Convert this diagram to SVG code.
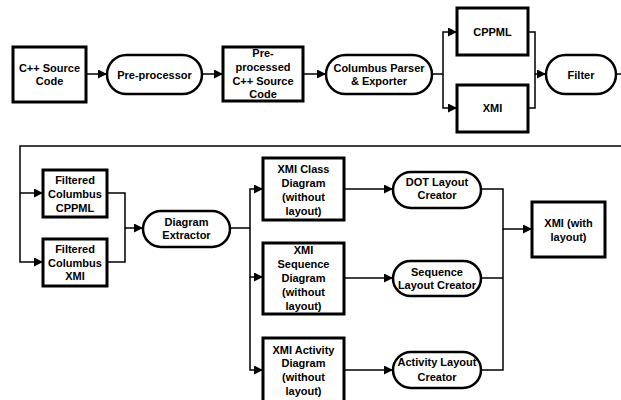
<svg xmlns="http://www.w3.org/2000/svg" width="621" height="400" viewBox="0 0 621 400">
<style>
.box{fill:#fff;stroke:#000;stroke-width:3}
.pill{fill:#fff;stroke:#000;stroke-width:2.5}
.c{fill:none;stroke:#000;stroke-width:1.5}
text{font-family:"Liberation Sans",Arial,sans-serif;font-size:11px;font-weight:bold;text-anchor:middle;fill:#000}
</style>
<defs>
<marker id="ah" markerUnits="userSpaceOnUse" markerWidth="9" markerHeight="9" refX="9" refY="4.5" orient="auto">
<path d="M0,0 L9,4.5 L0,9 z" fill="#000"/>
</marker>
</defs>
<rect width="621" height="400" fill="#fff"/>
<g id="connectors">
<path class="c" d="M86,74 H107" marker-end="url(#ah)"/>
<path class="c" d="M202,74 H223" marker-end="url(#ah)"/>
<path class="c" d="M303,74 H326" marker-end="url(#ah)"/>
<path class="c" d="M432,74 H443 V32 H457" marker-end="url(#ah)"/>
<path class="c" d="M443,74 V108 H457" marker-end="url(#ah)"/>
<path class="c" d="M528,32 H535 V74 H546" marker-end="url(#ah)"/>
<path class="c" d="M528,108 H535 V74"/>
<path class="c" d="M616,74 H621"/>
<path class="c" d="M621,146 H20 V262 H43" marker-end="url(#ah)"/>
<path class="c" d="M20,193 H43" marker-end="url(#ah)"/>
<path class="c" d="M107,193 H125 V228 H143" marker-end="url(#ah)"/>
<path class="c" d="M107,262 H125 V228"/>
<path class="c" d="M230,228 H250 V189 H263" marker-end="url(#ah)"/>
<path class="c" d="M250,228 V277 H263" marker-end="url(#ah)"/>
<path class="c" d="M250,277 V370 H263" marker-end="url(#ah)"/>
<path class="c" d="M344,189 H393" marker-end="url(#ah)"/>
<path class="c" d="M344,278 H393" marker-end="url(#ah)"/>
<path class="c" d="M344,370 H393" marker-end="url(#ah)"/>
<path class="c" d="M481,189 H503 V229 H532" marker-end="url(#ah)"/>
<path class="c" d="M481,278 H503"/>
<path class="c" d="M481,370 H503 V229"/>
</g>
<g id="cpp-source">
<rect class="box" x="13" y="47" width="73" height="55"/>
<text x="49.5" y="72">C++ Source</text>
<text x="49.5" y="85">Code</text>
</g>
<g id="preprocessor">
<rect class="pill" x="107" y="55" width="95" height="39" rx="19.5"/>
<text x="154.5" y="78.5">Pre-processor</text>
</g>
<g id="preprocessed">
<rect class="box" x="223" y="47" width="80" height="54"/>
<text x="263" y="57">Pre-</text>
<text x="263" y="71">processed</text>
<text x="263" y="85">C++ Source</text>
<text x="263" y="98">Code</text>
</g>
<g id="columbus">
<rect class="pill" x="326" y="55" width="106" height="39" rx="19.5"/>
<text x="379" y="72">Columbus Parser</text>
<text x="379" y="85">&amp; Exporter</text>
</g>
<g id="cppml">
<rect class="box" x="457" y="8" width="71" height="47"/>
<text x="492.5" y="36">CPPML</text>
</g>
<g id="xmi">
<rect class="box" x="457" y="85" width="71" height="47"/>
<text x="492.5" y="112">XMI</text>
</g>
<g id="filter">
<rect class="pill" x="546" y="55" width="70" height="39" rx="19.5"/>
<text x="581" y="78.5">Filter</text>
</g>
<g id="filtered-cppml">
<rect class="box" x="43" y="170" width="64" height="47"/>
<text x="75" y="184">Filtered</text>
<text x="75" y="198">Columbus</text>
<text x="75" y="212">CPPML</text>
</g>
<g id="filtered-xmi">
<rect class="box" x="43" y="239" width="64" height="47"/>
<text x="75" y="253">Filtered</text>
<text x="75" y="267">Columbus</text>
<text x="75" y="280">XMI</text>
</g>
<g id="diagram-extractor">
<rect class="pill" x="143" y="211" width="87" height="36" rx="18"/>
<text x="186.5" y="226">Diagram</text>
<text x="186.5" y="239">Extractor</text>
</g>
<g id="xmi-class">
<rect class="box" x="263" y="158" width="81" height="62"/>
<text x="303.5" y="173">XMI Class</text>
<text x="303.5" y="187">Diagram</text>
<text x="303.5" y="201">(without</text>
<text x="303.5" y="215">layout)</text>
</g>
<g id="xmi-sequence">
<rect class="box" x="263" y="243" width="81" height="71"/>
<text x="303.5" y="254">XMI</text>
<text x="303.5" y="268">Sequence</text>
<text x="303.5" y="282">Diagram</text>
<text x="303.5" y="296">(without</text>
<text x="303.5" y="310">layout)</text>
</g>
<g id="xmi-activity">
<rect class="box" x="263" y="338" width="81" height="70"/>
<text x="303.5" y="354">XMI Activity</text>
<text x="303.5" y="367">Diagram</text>
<text x="303.5" y="381">(without</text>
<text x="303.5" y="395">layout)</text>
</g>
<g id="dot-layout">
<rect class="pill" x="393" y="172" width="88" height="36" rx="18"/>
<text x="437" y="186">DOT Layout</text>
<text x="437" y="199">Creator</text>
</g>
<g id="sequence-layout">
<rect class="pill" x="393" y="261" width="88" height="35" rx="17.5"/>
<text x="437" y="276">Sequence</text>
<text x="437" y="289">Layout Creator</text>
</g>
<g id="activity-layout">
<rect class="pill" x="393" y="352" width="88" height="36" rx="18"/>
<text x="437" y="366">Activity Layout</text>
<text x="437" y="381">Creator</text>
</g>
<g id="xmi-with-layout">
<rect class="box" x="532" y="202" width="73" height="55"/>
<text x="568.5" y="227">XMI (with</text>
<text x="568.5" y="241">layout)</text>
</g>
</svg>
